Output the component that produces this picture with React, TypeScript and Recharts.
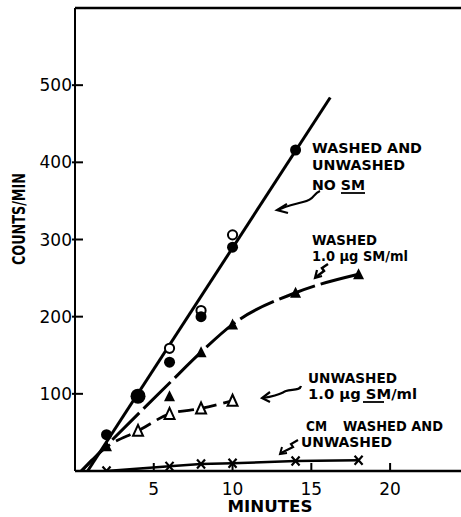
import React from "react";
import {
  ComposedChart,
  XAxis,
  YAxis,
  Line,
  Scatter,
  ReferenceLine,
  Customized,
} from "recharts";

const FONT = "'DejaVu Sans', sans-serif";

const xTicks = [5, 10, 15, 20];
const yTicks = [100, 200, 300, 400, 500];

// no SM: filled and open circles, one straight line through both
const noSmFilled = [
  { t: 2, v: 47 },
  { t: 4, v: 97 },
  { t: 6, v: 141 },
  { t: 8, v: 200 },
  { t: 10, v: 290 },
  { t: 14, v: 416 },
];
const noSmOpen = [
  { t: 6, v: 159 },
  { t: 8, v: 208 },
  { t: 10, v: 306 },
];
const noSmFit = [
  { t: 0.8, v: 0 },
  { t: 16.2, v: 484 },
];

// washed, 1.0 ug SM/ml (filled triangles)
const washedSm = [
  { t: 2, v: 32 },
  { t: 6, v: 97 },
  { t: 8, v: 154 },
  { t: 10, v: 190 },
  { t: 14, v: 231 },
  { t: 18, v: 255 },
];
const washedSmCurve = [
  { t: 0.4, v: 0 },
  { t: 2, v: 33 },
  { t: 6, v: 114 },
  { t: 8, v: 154 },
  { t: 10, v: 190 },
  { t: 14, v: 231 },
  { t: 18, v: 255 },
];

// unwashed, 1.0 ug SM/ml (open triangles)
const unwashedSm = [
  { t: 4, v: 52 },
  { t: 6, v: 74 },
  { t: 8, v: 81 },
  { t: 10, v: 91 },
];
const unwashedSmStart = [
  { t: 0.4, v: 0 },
  { t: 2, v: 31 },
];

// CM washed and unwashed (x marks)
const cm = [
  { t: 2, v: 0 },
  { t: 6, v: 6 },
  { t: 8, v: 9 },
  { t: 10, v: 10 },
  { t: 14, v: 13 },
  { t: 18, v: 14 },
];

const YTick = (props: any) => {
  const { x, y, payload } = props;
  return (
    <g>
      <line x1={x - 3} x2={x + 8} y1={y} y2={y} stroke="#000" strokeWidth={2} />
      <text
        x={x - 3}
        y={y + 6}
        textAnchor="end"
        fontSize={17}
        fontFamily={FONT}
        fill="#000"
      >
        {payload.value}
      </text>
    </g>
  );
};

const XTick = (props: any) => {
  const { x, y, payload } = props;
  return (
    <g>
      <line x1={x} x2={x} y1={y} y2={y - 8} stroke="#000" strokeWidth={2} />
      <text
        x={x}
        y={y + 24}
        textAnchor="middle"
        fontSize={17}
        fontFamily={FONT}
        fill="#000"
      >
        {payload.value}
      </text>
    </g>
  );
};

const Dot = (p: any) => (
  <circle cx={p.cx} cy={p.cy} r={p.payload.t === 4 ? 7.5 : 5.5} fill="#000" />
);
const Ring = (p: any) => (
  <circle cx={p.cx} cy={p.cy} r={4.6} fill="#fff" stroke="#000" strokeWidth={2} />
);
const Tri = (p: any) => (
  <path
    d={`M${p.cx},${p.cy - 6} L${p.cx + 5.5},${p.cy + 5} L${p.cx - 5.5},${p.cy + 5} Z`}
    fill="#000"
  />
);
const OpenTri = (p: any) => (
  <path
    d={`M${p.cx},${p.cy - 6} L${p.cx + 5},${p.cy + 5} L${p.cx - 5},${p.cy + 5} Z`}
    fill="#fff"
    stroke="#000"
    strokeWidth={2}
  />
);
const Cross = (p: any) => (
  <path
    d={`M${p.cx - 4},${p.cy - 4.5} L${p.cx + 4},${p.cy + 4.5} M${p.cx + 4},${p.cy - 4.5} L${p.cx - 4},${p.cy + 4.5}`}
    stroke="#000"
    strokeWidth={2.2}
  />
);

const Note = ({ x, y, w, children }: any) => (
  <text
    x={x}
    y={y}
    fontSize={14}
    fontWeight={700}
    fontFamily={FONT}
    fill="#000"
    textLength={w}
    lengthAdjust="spacingAndGlyphs"
  >
    {children}
  </text>
);

const Annotations = () => (
  <g>
    <Note x={312} y={153} w={110}>WASHED AND</Note>
    <Note x={312} y={170} w={93}>UNWASHED</Note>
    <Note x={312} y={190} w={53}>NO SM</Note>
    <line x1={341} x2={365} y1={193} y2={193} stroke="#000" strokeWidth={1.8} />
    <path
      d="M320,191 C312,194 316,199 303,202 C292,205 286,206 278,210"
      fill="none"
      stroke="#000"
      strokeWidth={2.2}
    />
    <path d="M287,204 L277,210 L288,213" fill="none" stroke="#000" strokeWidth={2.2} />

    <Note x={312} y={245} w={65}>WASHED</Note>
    <Note x={312} y={261} w={96}>1.0 µg SM/ml</Note>
    <path d="M328,264 L322,268 L324,271 L316,277" fill="none" stroke="#000" strokeWidth={2.5} />
    <path d="M317,270 L315,278 L322,276" fill="none" stroke="#000" strokeWidth={2.2} />

    <Note x={308} y={383} w={89}>UNWASHED</Note>
    <Note x={308} y={399} w={109}>1.0 µg SM/ml</Note>
    <line x1={363} x2={384} y1={402} y2={402} stroke="#000" strokeWidth={1.8} />
    <path
      d="M301,386 C300,391 291,389 286,391 C281,393 281,395 263,398"
      fill="none"
      stroke="#000"
      strokeWidth={2.2}
    />
    <path d="M270,392 L262,398 L270,402" fill="none" stroke="#000" strokeWidth={2.2} />

    <Note x={306} y={431} w={21}>CM</Note>
    <Note x={343} y={431} w={100}>WASHED AND</Note>
    <Note x={301} y={447} w={91}>UNWASHED</Note>
    <path d="M298,440 L291,444 L293,447 L281,453" fill="none" stroke="#000" strokeWidth={2.2} />
    <path d="M282,447 L280,454 L287,453" fill="none" stroke="#000" strokeWidth={2} />

    <text
      x={270}
      y={512}
      textAnchor="middle"
      fontSize={16}
      fontWeight={700}
      fontFamily={FONT}
      fill="#000"
      textLength={85}
      lengthAdjust="spacingAndGlyphs"
    >
      MINUTES
    </text>
    <text
      transform="translate(25,219) rotate(-90)"
      textAnchor="middle"
      fontSize={17}
      fontWeight={700}
      fontFamily={FONT}
      fill="#000"
      textLength={92}
      lengthAdjust="spacingAndGlyphs"
    >
      COUNTS/MIN
    </text>
  </g>
);

export default function App() {
  return (
    <div style={{ position: "absolute", left: 0, top: 0, background: "#fff" }}>
      <ComposedChart
        width={461}
        height={517}
        margin={{ top: 8, right: 0, bottom: 0, left: 0 }}
      >
        <XAxis
          type="number"
          dataKey="t"
          domain={[0, 24.5]}
          ticks={xTicks}
          allowDataOverflow
          height={46}
          tickSize={0}
          tickMargin={0}
          tickLine={false}
          tick={<XTick />}
          axisLine={{ stroke: "#000", strokeWidth: 2.5 }}
        />
        <YAxis
          type="number"
          dataKey="v"
          domain={[0, 600]}
          ticks={yTicks}
          allowDataOverflow
          width={75}
          tickSize={0}
          tickMargin={0}
          tickLine={false}
          tick={<YTick />}
          axisLine={{ stroke: "#000", strokeWidth: 2 }}
        />
        <ReferenceLine y={600} stroke="#000" strokeWidth={2.5} />

        <Line
          data={noSmFit}
          dataKey="v"
          type="linear"
          stroke="#000"
          strokeWidth={3}
          dot={false}
          isAnimationActive={false}
        />
        <Line
          data={washedSmCurve}
          dataKey="v"
          type="monotone"
          stroke="#000"
          strokeWidth={3}
          strokeDasharray="38 6"
          dot={false}
          isAnimationActive={false}
        />
        <Line
          data={[...unwashedSmStart, ...unwashedSm]}
          dataKey="v"
          type="monotone"
          stroke="#000"
          strokeWidth={2.8}
          strokeDasharray="16 7"
          dot={false}
          isAnimationActive={false}
        />
        <Line
          data={cm}
          dataKey="v"
          type="linear"
          stroke="#000"
          strokeWidth={2.5}
          dot={false}
          isAnimationActive={false}
        />

        <Scatter data={noSmOpen} dataKey="v" shape={Ring} isAnimationActive={false} />
        <Scatter data={noSmFilled} dataKey="v" shape={Dot} isAnimationActive={false} />
        <Scatter data={washedSm} dataKey="v" shape={Tri} isAnimationActive={false} />
        <Scatter data={unwashedSm} dataKey="v" shape={OpenTri} isAnimationActive={false} />
        <Scatter data={cm} dataKey="v" shape={Cross} isAnimationActive={false} />

        <Customized component={<Annotations />} />
      </ComposedChart>
    </div>
  );
}
